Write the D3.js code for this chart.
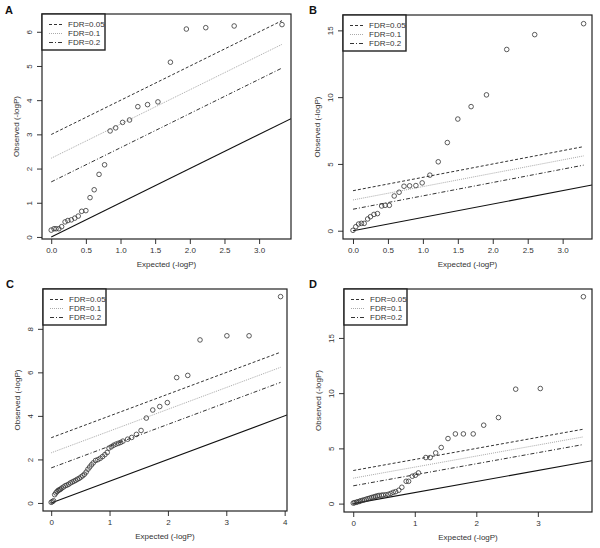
<!DOCTYPE html>
<html>
<head>
<meta charset="utf-8">
<script src="https://cdn.jsdelivr.net/npm/d3@7"></script>
<style>
  html, body { margin: 0; padding: 0; background: #fff; }
  svg { display: block; font-family: "Liberation Sans", Arial, Helvetica, sans-serif; }
</style>
</head>
<body>
<svg id="chart" width="600" height="548"></svg>
<script>
// ---------------- DATA ----------------
const panelLabels = ["A", "B", "C", "D"];

const aExpected = [0.00, 0.04, 0.07, 0.11, 0.15, 0.20, 0.24, 0.29, 0.34, 0.39, 0.44, 0.50, 0.56, 0.62, 0.69, 0.77, 0.85, 0.93, 1.03, 1.13, 1.25, 1.39, 1.54, 1.72, 1.95, 2.23, 2.64, 3.33];
const aObserved = [0.20, 0.24, 0.24, 0.24, 0.30, 0.44, 0.48, 0.50, 0.55, 0.61, 0.75, 0.77, 1.15, 1.38, 1.83, 2.11, 3.10, 3.19, 3.35, 3.42, 3.81, 3.87, 3.95, 5.11, 6.08, 6.12, 6.17, 6.21];

const bExpected = [0.00, 0.04, 0.08, 0.12, 0.16, 0.21, 0.25, 0.30, 0.35, 0.41, 0.46, 0.52, 0.59, 0.66, 0.73, 0.81, 0.90, 0.99, 1.10, 1.22, 1.35, 1.50, 1.69, 1.91, 2.20, 2.60, 3.30];
const bObserved = [0.03, 0.30, 0.50, 0.55, 0.55, 0.88, 1.05, 1.22, 1.28, 1.85, 1.90, 1.90, 2.60, 2.88, 3.33, 3.36, 3.38, 3.58, 4.16, 5.16, 6.60, 8.36, 9.29, 10.17, 13.57, 14.68, 15.50];

const cExpected = [0.00, 0.02, 0.04, 0.06, 0.08, 0.10, 0.12, 0.14, 0.16, 0.18, 0.21, 0.24, 0.27, 0.30, 0.33, 0.36, 0.39, 0.42, 0.45, 0.48, 0.51, 0.54, 0.57, 0.60, 0.63, 0.66, 0.69, 0.72, 0.76, 0.80, 0.84, 0.88, 0.92, 0.96, 0.99, 1.03, 1.07, 1.11, 1.15, 1.19, 1.23, 1.31, 1.38, 1.46, 1.54, 1.63, 1.74, 1.86, 1.99, 2.15, 2.34, 2.55, 3.01, 3.39, 3.93];
const cObserved = [0.03, 0.06, 0.10, 0.38, 0.46, 0.52, 0.58, 0.60, 0.63, 0.68, 0.73, 0.79, 0.82, 0.86, 0.92, 0.96, 1.00, 1.04, 1.09, 1.13, 1.19, 1.25, 1.32, 1.42, 1.55, 1.65, 1.75, 1.84, 1.95, 1.99, 2.05, 2.13, 2.22, 2.32, 2.52, 2.58, 2.65, 2.70, 2.74, 2.78, 2.84, 2.93, 3.01, 3.15, 3.33, 3.90, 4.27, 4.43, 4.61, 5.76, 5.86, 7.49, 7.68, 7.68, 9.48];

const dExpected = [0.00, 0.02, 0.05, 0.07, 0.10, 0.12, 0.15, 0.18, 0.21, 0.24, 0.27, 0.30, 0.33, 0.36, 0.39, 0.42, 0.46, 0.49, 0.53, 0.57, 0.61, 0.65, 0.69, 0.74, 0.79, 0.86, 0.90, 0.96, 1.01, 1.06, 1.18, 1.25, 1.34, 1.43, 1.54, 1.66, 1.79, 1.95, 2.12, 2.36, 2.64, 3.04, 3.74];
const dObserved = [0.05, 0.08, 0.12, 0.16, 0.20, 0.25, 0.30, 0.34, 0.40, 0.45, 0.50, 0.55, 0.60, 0.65, 0.70, 0.74, 0.76, 0.78, 0.80, 0.84, 0.92, 1.02, 1.08, 1.21, 1.48, 2.02, 2.02, 2.48, 2.57, 2.78, 4.17, 4.17, 4.59, 5.08, 5.89, 6.31, 6.31, 6.31, 7.10, 7.79, 10.36, 10.42, 18.73];

const fdrLevels = [0.05, 0.1, 0.2];
const fdrLabels = ["FDR=0.05", "FDR=0.1", "FDR=0.2"];

const aXTicks = [0.0, 0.5, 1.0, 1.5, 2.0, 2.5, 3.0], aYTicks = [0, 1, 2, 3, 4, 5, 6];
const bXTicks = [0.0, 0.5, 1.0, 1.5, 2.0, 2.5, 3.0], bYTicks = [0, 5, 10, 15];
const cXTicks = [0, 1, 2, 3, 4], cYTicks = [0, 2, 4, 6, 8];
const dXTicks = [0, 1, 2, 3], dYTicks = [0, 5, 10, 15];

const xTitle = "Expected (-logP)";
const yTitle = "Observed (-logP)";

// ---------------- LAYOUT ----------------
const panels = [
  {label: panelLabels[0], ex: aExpected, ob: aObserved, xt: aXTicks, yt: aYTicks, xf: ".1f",
   box: [42, 14, 291, 239], lab: [5, 14], xd: [-0.133, 3.46], yd: [-0.06, 6.52]},
  {label: panelLabels[1], ex: bExpected, ob: bObserved, xt: bXTicks, yt: bYTicks, xf: ".1f",
   box: [343, 15, 592, 239], lab: [309, 14], xd: [-0.143, 3.42], yd: [-0.62, 16.15]},
  {label: panelLabels[2], ex: cExpected, ob: cObserved, xt: cXTicks, yt: cYTicks, xf: "d",
   box: [43, 289, 287, 511], lab: [6, 288], xd: [-0.14, 4.04], yd: [-0.37, 9.83]},
  {label: panelLabels[3], ex: dExpected, ob: dObserved, xt: dXTicks, yt: dYTicks, xf: "d",
   box: [344, 289, 592, 512], lab: [309, 288], xd: [-0.15, 3.88], yd: [-0.76, 19.43]}
];

const lineStyles = [
  {stroke: "#333", dash: "3,2", width: 1},
  {stroke: "#aaa", dash: "1,1", width: 1},
  {stroke: "#333", dash: "4,2,1,2", width: 1}
];

const svg = d3.select("#chart");

panels.forEach((p, pi) => {
  const [L, T, R, B] = p.box;
  const x = d3.scaleLinear().domain(p.xd).range([L, R]);
  const y = d3.scaleLinear().domain(p.yd).range([B, T]);
  const g = svg.append("g");

  const clipId = "clip" + pi;
  svg.append("clipPath").attr("id", clipId)
    .append("rect").attr("x", L).attr("y", T).attr("width", R - L).attr("height", B - T);

  const plot = g.append("g").attr("clip-path", `url(#${clipId})`);

  // identity line from origin
  const xMaxDom = p.xd[1];
  plot.append("line")
    .attr("x1", x(0)).attr("y1", y(0))
    .attr("x2", x(xMaxDom)).attr("y2", y(xMaxDom))
    .attr("stroke", "#111").attr("stroke-width", 1.1);

  // FDR lines
  const xMax = d3.max(p.ex);
  fdrLevels.forEach((q, i) => {
    const c = -Math.log(q);
    const st = lineStyles[i];
    plot.append("line")
      .attr("x1", x(0)).attr("y1", y(c))
      .attr("x2", x(xMax)).attr("y2", y(xMax + c))
      .attr("stroke", st.stroke).attr("stroke-width", st.width)
      .attr("stroke-dasharray", st.dash);
  });

  // points
  plot.selectAll("circle.pt").data(p.ex.map((e, i) => [e, p.ob[i]]))
    .enter().append("circle")
    .attr("class", "pt")
    .attr("cx", d => x(d[0])).attr("cy", d => y(d[1]))
    .attr("r", 2.3)
    .attr("fill", "none").attr("stroke", "#333").attr("stroke-width", 0.8);

  // axes
  const xAxis = d3.axisBottom(x).tickValues(p.xt).tickSize(5).tickPadding(3)
    .tickFormat(d3.format(p.xf));
  const gx = g.append("g").attr("transform", `translate(0,${B})`).call(xAxis);
  gx.select(".domain").remove();
  gx.selectAll("line").attr("stroke", "#333");
  gx.selectAll("text").attr("font-size", 8).attr("fill", "#333")
    .attr("font-family", "Liberation Sans, Arial, sans-serif");

  const yAxis = d3.axisLeft(y).tickValues(p.yt).tickSize(5).tickPadding(3)
    .tickFormat(d3.format("d"));
  const gy = g.append("g").attr("transform", `translate(${L},0)`).call(yAxis);
  gy.select(".domain").remove();
  gy.selectAll("line").attr("stroke", "#333");
  gy.selectAll("text")
    .attr("font-size", 8).attr("fill", "#333")
    .attr("font-family", "Liberation Sans, Arial, sans-serif")
    .attr("text-anchor", "middle").attr("dy", null)
    .attr("x", null)
    .attr("transform", function() {
      return `translate(-13,0) rotate(-90)`;
    })
    .attr("dy", "0.32em");

  // box
  g.append("rect").attr("x", L).attr("y", T).attr("width", R - L).attr("height", B - T)
    .attr("fill", "none").attr("stroke", "#222").attr("stroke-width", 1.2);

  // titles
  g.append("text").attr("x", (L + R) / 2).attr("y", B + 28)
    .attr("text-anchor", "middle").attr("font-size", 8).attr("fill", "#333")
    .text(xTitle);
  g.append("text")
    .attr("transform", `translate(${L - 23},${(T + B) / 2}) rotate(-90)`)
    .attr("text-anchor", "middle").attr("font-size", 8).attr("fill", "#333")
    .text(yTitle);

  // panel label
  g.append("text").attr("x", p.lab[0]).attr("y", p.lab[1])
    .attr("font-size", 11).attr("font-weight", "bold").attr("fill", "#111")
    .text(p.label);

  // legend
  const lg = g.append("g");
  lg.append("rect").attr("x", L).attr("y", T).attr("width", 63).attr("height", 36)
    .attr("fill", "#fff").attr("stroke", "#222").attr("stroke-width", 1.4);
  fdrLabels.forEach((t, i) => {
    const yy = T + 10.5 + i * 9;
    const st = lineStyles[i];
    lg.append("line").attr("x1", L + 7).attr("x2", L + 20).attr("y1", yy).attr("y2", yy)
      .attr("stroke", st.stroke).attr("stroke-width", st.width).attr("stroke-dasharray", st.dash);
    lg.append("text").attr("x", L + 26).attr("y", yy).attr("dy", "0.35em")
      .attr("font-size", 8).attr("fill", "#333").text(t);
  });
});
</script>
</body>
</html>
